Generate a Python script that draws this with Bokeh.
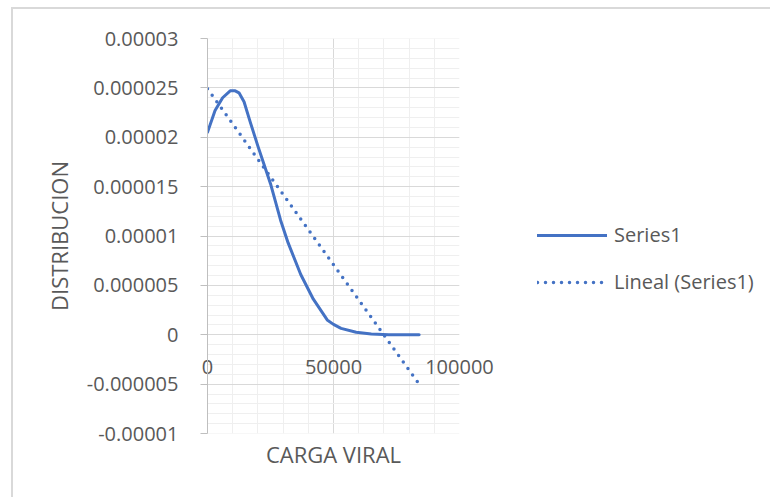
from bokeh.plotting import figure
from bokeh.layouts import row
from bokeh.models import (LinearAxis, FixedTicker, CustomJSTickFormatter, Legend,
                          LegendItem, Range1d)
from bokeh.embed import file_html
from bokeh.resources import INLINE

# ---- data ----
carga_viral = [0, 3000, 6000, 9000, 11000, 12500, 14500, 17000, 20000, 25000, 29000,
               32000, 37000, 42000, 47500, 50000, 53000, 59000, 65000, 72000, 84000]
distribucion = [2.05e-5, 2.27e-5, 2.40e-5, 2.47e-5, 2.47e-5, 2.45e-5, 2.36e-5, 2.15e-5,
                1.91e-5, 1.53e-5, 1.16e-5, 9.3e-6, 6.1e-6, 3.6e-6, 1.5e-6, 1.05e-6,
                6.5e-7, 2.5e-7, 8e-8, 1e-8, 0.0]
trend_x = [0, 84000]
trend_y = [2.49e-5, -5.0e-6]

x_ticks = [0, 50000, 100000]
x_tick_labels = ["0", "50000", "100000"]
x_minor = [0, 10000, 20000, 30000, 40000, 50000, 60000, 70000, 80000, 90000, 100000]
y_ticks = [-1e-5, -5e-6, 0.0, 5e-6, 1e-5, 1.5e-5, 2e-5, 2.5e-5, 3e-5]
y_tick_labels = ["-0.00001", "-0.000005", "0", "0.000005", "0.00001", "0.000015",
                 "0.00002", "0.000025", "0.00003"]
y_minor = [i * 1e-6 for i in range(-10, 31)]

TXT = "#595959"
FONT = "Open Sans"
BLUE = "#4472C4"
H = 488

p = figure(width=486, height=H, x_range=Range1d(0, 100000), y_range=Range1d(-1e-5, 3e-5),
           output_backend="svg", toolbar_location=None, x_axis_location=None,
           min_border_left=194, min_border_right=40, min_border_top=29, min_border_bottom=64)
p.outline_line_color = None
p.background_fill_color = "white"
p.border_fill_color = "white"

fmt_code = """
let best = 0;
for (let i = 0; i < tv.length; i++) {
  if (Math.abs(tv[i] - tick) < Math.abs(tv[best] - tick)) best = i;
}
return lab[best];
"""

xt = FixedTicker(ticks=x_ticks, minor_ticks=x_minor)
yt = FixedTicker(ticks=y_ticks, minor_ticks=y_minor)

# grids
p.xgrid.ticker = xt
p.ygrid.ticker = yt
for g in (p.xgrid[0], p.ygrid[0]):
    g.grid_line_color = "#d9d9d9"
    g.grid_line_width = 1
    g.minor_grid_line_color = "#efefef"
    g.minor_grid_line_width = 1

# y axis
ya = p.yaxis[0]
ya.ticker = yt
ya.formatter = CustomJSTickFormatter(args=dict(tv=y_ticks, lab=y_tick_labels), code=fmt_code)
ya.axis_line_color = "#bfbfbf"
ya.major_tick_line_color = "#bfbfbf"
ya.major_tick_out = 7
ya.major_tick_in = 0
ya.minor_tick_out = 0
ya.minor_tick_in = 0
ya.major_label_text_font = FONT
ya.major_label_text_font_size = "20px"
ya.major_label_text_color = TXT
ya.major_label_standoff = 22
ya.axis_label = "DISTRIBUCION"
ya.axis_label_text_font = FONT
ya.axis_label_text_font_size = "22px"
ya.axis_label_text_font_style = "normal"
ya.axis_label_text_color = TXT
ya.axis_label_standoff = 10

# x axis title (below frame, nearest)
ta = LinearAxis(ticker=FixedTicker(ticks=[]), axis_label="CARGA VIRAL",
                axis_line_color=None, major_tick_line_color=None, minor_tick_line_color=None,
                axis_label_standoff=5, axis_label_text_font=FONT,
                axis_label_text_font_size="22px", axis_label_text_font_style="normal",
                axis_label_text_color=TXT)
p.add_layout(ta, "below")

# x tick labels, lifted up next to the y = 0 line
xa = LinearAxis(ticker=xt,
                formatter=CustomJSTickFormatter(args=dict(tv=x_ticks, lab=x_tick_labels),
                                                code=fmt_code),
                axis_line_color=None, major_tick_line_color=None, minor_tick_line_color=None,
                major_tick_out=0, major_tick_in=0, minor_tick_out=0, minor_tick_in=0,
                major_label_standoff=-112,
                major_label_text_font=FONT, major_label_text_font_size="20px",
                major_label_text_color=TXT)
p.add_layout(xa, "below")

line_kw = dict(line_color=BLUE, line_width=3, line_cap="round", line_join="round")
trend_kw = dict(line_color=BLUE, line_width=3.5, line_dash="0 8", line_cap="round")
p.line(carga_viral, distribucion, **line_kw)
p.line(trend_x, trend_y, **trend_kw)

# legend panel at the right (its own lines lie outside its visible range)
q = figure(width=271, height=H, x_range=Range1d(0, 1), y_range=Range1d(1, 2),
           output_backend="svg", toolbar_location=None, x_axis_location=None,
           y_axis_location=None, min_border_left=0, min_border_right=0,
           min_border_top=0, min_border_bottom=0)
q.outline_line_color = None
q.grid.visible = False
q.background_fill_color = "white"
q.border_fill_color = "white"
l1 = q.line(carga_viral, distribucion, **line_kw)
l2 = q.line(trend_x, trend_y, **trend_kw)

legend = Legend(items=[LegendItem(label="Series1", renderers=[l1]),
                       LegendItem(label="Lineal (Series1)", renderers=[l2])],
                location=(38, 138), orientation="vertical",
                border_line_color=None, background_fill_alpha=0,
                padding=0, margin=0, spacing=20,
                glyph_width=70, glyph_height=20, label_height=20, label_standoff=7,
                label_text_font=FONT, label_text_font_size="20px", label_text_color=TXT)
q.add_layout(legend, "center")

layout = row(p, q, spacing=0)
layout.styles = {"border-top": "2px solid #d9d9d9", "border-left": "2px solid #d9d9d9",
                 "margin-left": "11px", "margin-top": "7px"}

open("out.html", "w").write(file_html(layout, INLINE))
